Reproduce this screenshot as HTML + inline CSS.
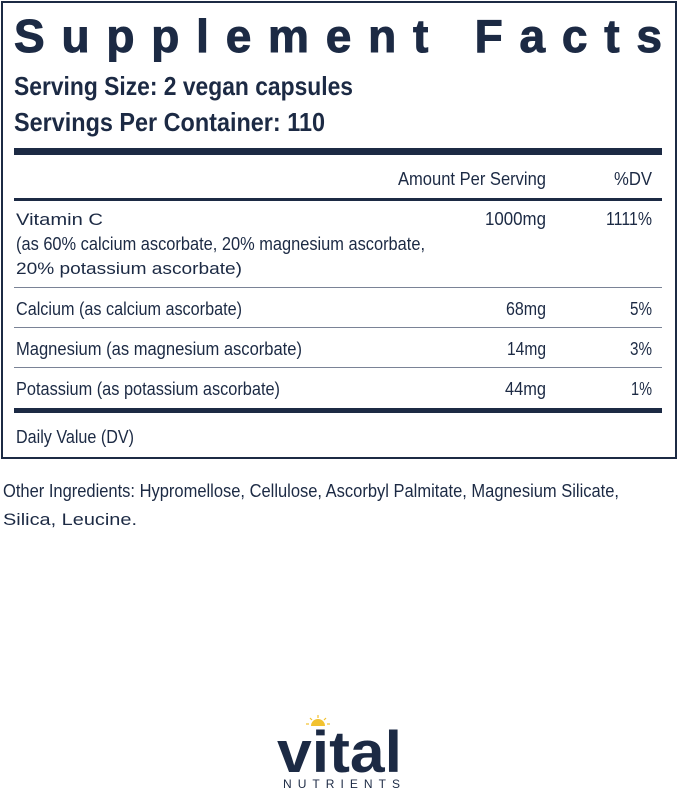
<!DOCTYPE html>
<html><head><meta charset="utf-8"><style>
html,body{margin:0;padding:0;background:#fff;width:679px;height:791px;overflow:hidden}
svg{display:block}
text{font-family:"Liberation Sans",sans-serif;fill:#1c2a44}
</style></head><body>
<svg width="679" height="791" viewBox="0 0 679 791">
<rect x="2" y="2" width="674" height="456" fill="none" stroke="#1c2a44" stroke-width="2"/>
<text x="14" y="52" font-size="46" font-weight="bold" stroke="#1c2a44" stroke-width="1" textLength="648" lengthAdjust="spacing">Supplement Facts</text>
<text x="14" y="95" font-size="26" font-weight="bold" textLength="339" lengthAdjust="spacingAndGlyphs">Serving Size: 2 vegan capsules</text>
<text x="14" y="131" font-size="26" font-weight="bold" textLength="311" lengthAdjust="spacingAndGlyphs">Servings Per Container: 110</text>
<rect x="14" y="148" width="648" height="7" fill="#1c2a44"/>
<g font-size="18">
<text x="398" y="185" textLength="148" lengthAdjust="spacingAndGlyphs">Amount Per Serving</text>
<text x="614" y="185" textLength="38" lengthAdjust="spacingAndGlyphs">%DV</text>
</g>
<rect x="14" y="198" width="648" height="3" fill="#1c2a44"/>
<g font-size="18">
<text x="16" y="225" font-size="17" textLength="87" lengthAdjust="spacingAndGlyphs">Vitamin C</text>
<text x="485" y="225" textLength="61" lengthAdjust="spacingAndGlyphs">1000mg</text>
<text x="606" y="225" textLength="46" lengthAdjust="spacingAndGlyphs">1111%</text>
<text x="16" y="250" textLength="409" lengthAdjust="spacingAndGlyphs">(as 60% calcium ascorbate, 20% magnesium ascorbate,</text>
<text x="16" y="274" font-size="17" textLength="226" lengthAdjust="spacingAndGlyphs">20% potassium ascorbate)</text>
<text x="16" y="315" textLength="226" lengthAdjust="spacingAndGlyphs">Calcium (as calcium ascorbate)</text>
<text x="506" y="315" textLength="40" lengthAdjust="spacingAndGlyphs">68mg</text>
<text x="630" y="315" textLength="22" lengthAdjust="spacingAndGlyphs">5%</text>
<text x="16" y="355" textLength="286" lengthAdjust="spacingAndGlyphs">Magnesium (as magnesium ascorbate)</text>
<text x="507" y="355" textLength="39" lengthAdjust="spacingAndGlyphs">14mg</text>
<text x="630" y="355" textLength="22" lengthAdjust="spacingAndGlyphs">3%</text>
<text x="16" y="395" textLength="264" lengthAdjust="spacingAndGlyphs">Potassium (as potassium ascorbate)</text>
<text x="505" y="395" textLength="41" lengthAdjust="spacingAndGlyphs">44mg</text>
<text x="631" y="395" textLength="21" lengthAdjust="spacingAndGlyphs">1%</text>
<text x="16" y="443" textLength="118" lengthAdjust="spacingAndGlyphs">Daily Value (DV)</text>
<text x="3" y="497" textLength="616" lengthAdjust="spacingAndGlyphs">Other Ingredients: Hypromellose, Cellulose, Ascorbyl Palmitate, Magnesium Silicate,</text>
<text x="3" y="525" font-size="17" textLength="134" lengthAdjust="spacingAndGlyphs">Silica, Leucine.</text>
</g>
<rect x="14" y="287" width="648" height="1" fill="#7a8396"/>
<rect x="14" y="327" width="648" height="1" fill="#7a8396"/>
<rect x="14" y="367" width="648" height="1" fill="#7a8396"/>
<rect x="14" y="408" width="648" height="5" fill="#1c2a44"/>
<path d="M311 726 a7 7 0 0 1 14 0 z" fill="#f2c230"/>
<g stroke="#f2c230" stroke-width="1.2">
<line x1="318" y1="715" x2="318" y2="718"/><line x1="310" y1="718" x2="312" y2="720"/><line x1="326" y1="718" x2="324" y2="720"/>
<line x1="306" y1="724" x2="309" y2="724"/><line x1="330" y1="724" x2="327" y2="724"/>
</g>
<text x="277" y="772" font-size="58" font-weight="bold" textLength="125" lengthAdjust="spacingAndGlyphs">vital</text>
<text x="283" y="788" font-size="12" textLength="117" lengthAdjust="spacing">NUTRIENTS</text>
</svg>
</body></html>
